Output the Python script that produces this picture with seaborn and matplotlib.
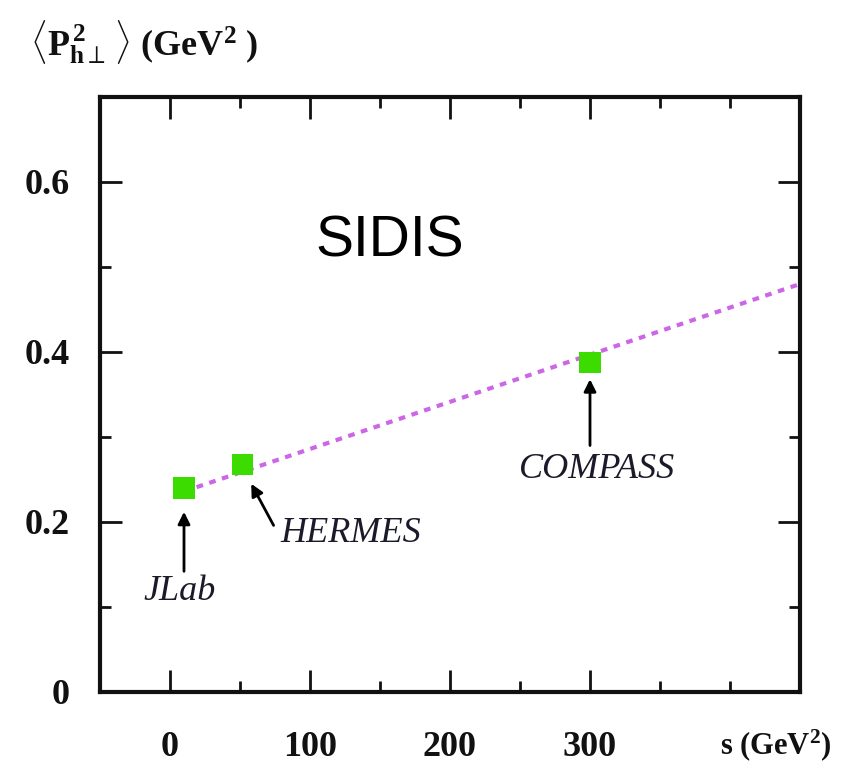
import matplotlib
matplotlib.use("Agg")
import matplotlib.pyplot as plt
import seaborn as sns
import pandas as pd
from matplotlib.ticker import MultipleLocator

# Experiments and their average transverse momentum squared
experiments = ["JLab", "HERMES", "COMPASS"]
s_values = [10, 52, 300]
pt2_values = [0.240, 0.268, 0.388]

# Linear trend in s
trend_s = [10, 450]
trend_pt2 = [0.236, 0.480]

x_ticks = [0, 100, 200, 300]
y_ticks = [0, 0.2, 0.4, 0.6]
y_tick_labels = ["0", "0.2", "0.4", "0.6"]

sns.set_theme(style="ticks")
plt.rcParams["font.family"] = ["Liberation Serif", "DejaVu Serif"]
plt.rcParams["mathtext.fontset"] = "custom"
plt.rcParams["mathtext.rm"] = "Liberation Serif:bold"
plt.rcParams["mathtext.bf"] = "Liberation Serif:bold"
plt.rcParams["mathtext.it"] = "Liberation Serif:bold:italic"

fig = plt.figure(figsize=(8.43, 7.70), dpi=100)
ax = fig.add_axes([100 / 843, 1 - 692 / 770, 700 / 843, 595 / 770])

points = pd.DataFrame({"experiment": experiments, "s": s_values, "pt2": pt2_values})
trend = pd.DataFrame({"s": trend_s, "pt2": trend_pt2})

sns.lineplot(data=trend, x="s", y="pt2", ax=ax, color="#cc66e6",
             linewidth=3, linestyle=(0, (1.6, 1.6)), zorder=2)
sns.scatterplot(data=points, x="s", y="pt2", ax=ax, marker="s", s=230,
                color="#3ddc00", edgecolor="none", zorder=3)

ax.set_xlim(-50, 450)
ax.set_ylim(0, 0.7)
ax.set_xticks(x_ticks)
ax.set_xticklabels([str(t) for t in x_ticks])
ax.set_yticks(y_ticks)
ax.set_yticklabels(y_tick_labels)
ax.xaxis.set_minor_locator(MultipleLocator(50))
ax.yaxis.set_minor_locator(MultipleLocator(0.1))
ax.set_xlabel("")
ax.set_ylabel("")

for spine in ax.spines.values():
    spine.set_linewidth(3)
    spine.set_color("#111111")
    spine.set_visible(True)

ax.tick_params(which="both", direction="in", top=True, right=True,
               color="#111111")
ax.tick_params(which="major", length=16, width=2)
ax.tick_params(which="minor", length=8, width=2)
ax.tick_params(axis="x", which="major", pad=28)
ax.tick_params(axis="y", which="major", pad=22)
for lbl in ax.get_xticklabels() + ax.get_yticklabels():
    lbl.set_fontsize(26)
    lbl.set_fontweight("bold")
    lbl.set_color("#111111")

# Axis titles
fig.text(30 / 843, 1 - 42 / 770,
         r"$\langle\mathrm{P}^{\,2}_{\mathrm{h}\perp}\,\rangle$ (GeV$^{2}$ )",
         fontsize=26, fontweight="bold", ha="left", va="center", color="#111111")
fig.text(832 / 843, 1 - 745 / 770, r"s (GeV$^{2}$)", fontsize=22,
         fontweight="bold", ha="right", va="center", color="#111111")

ax.text(157, 0.53, "SIDIS", family=["Liberation Sans", "DejaVu Sans"],
        fontsize=41, ha="center", va="center", color="black")

# Experiment labels with arrows
arrow = dict(arrowstyle="-|>", color="black", lw=2, mutation_scale=18,
             shrinkA=0, shrinkB=0)
label_style = dict(fontsize=26, style="italic", va="center", color="#1a1a2a")
ax.annotate("", xy=(s_values[0], 0.212), xytext=(s_values[0], 0.142),
            arrowprops=arrow)
ax.text(s_values[0] - 3, 0.118, experiments[0], ha="center", **label_style)
ax.annotate("", xy=(s_values[1] + 6, 0.245), xytext=(s_values[1] + 22, 0.196),
            arrowprops=arrow)
ax.text(s_values[1] + 27, 0.187, experiments[1], ha="left", **label_style)
ax.annotate("", xy=(s_values[2], 0.368), xytext=(s_values[2], 0.29),
            arrowprops=arrow)
ax.text(s_values[2] + 5, 0.262, experiments[2], ha="center", **label_style)

fig.savefig("out.png", dpi=100)
